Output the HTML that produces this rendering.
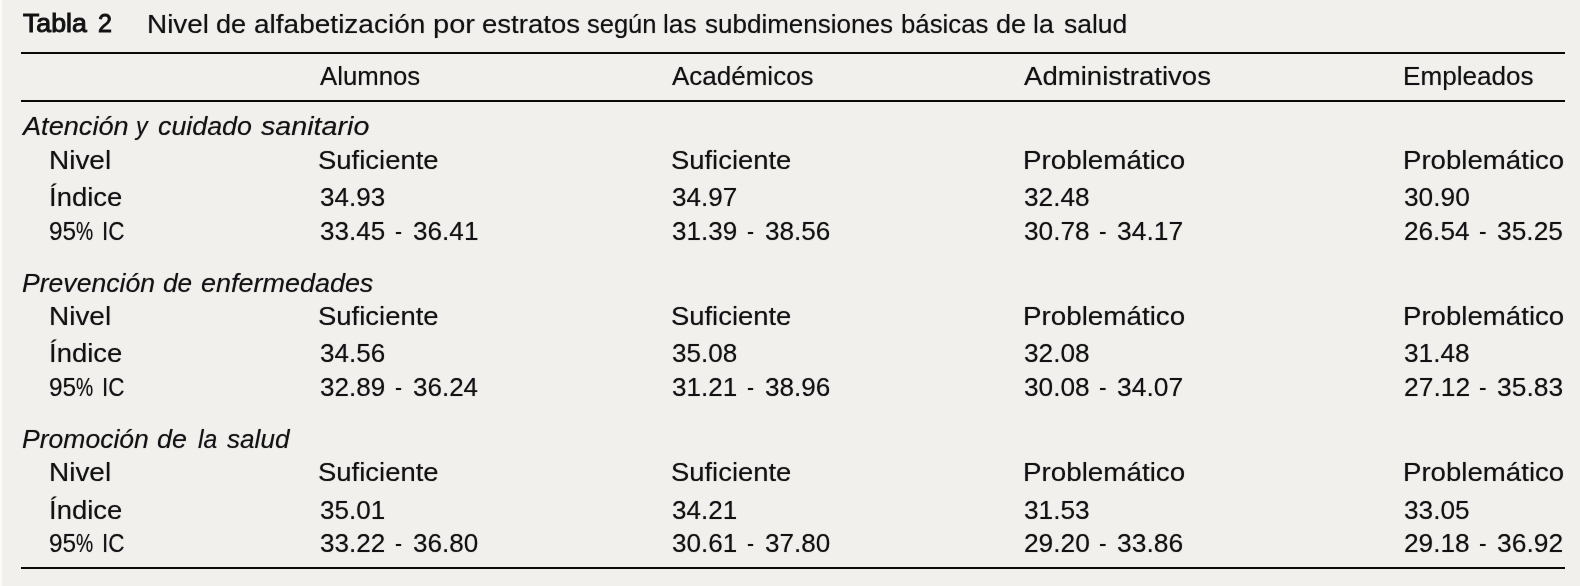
<!DOCTYPE html>
<html lang="es">
<head>
<meta charset="utf-8">
<title>Tabla 2</title>
<style>
html,body{margin:0;padding:0}
body{width:1580px;height:586px;position:relative;overflow:hidden;background:#f1f0ec;color:#121214;font-family:"Liberation Sans",sans-serif;font-size:25.5px;line-height:25.5px}
.t{position:absolute;white-space:pre;transform-origin:0 0;display:block;text-shadow:0 0 1px rgba(20,20,30,.5)}
#tx{position:absolute;left:0;top:0;width:1580px;height:586px;filter:blur(.35px)}
.b{text-shadow:none;-webkit-text-stroke:1px #121214}
.i{font-style:italic}
.ln{position:absolute;left:21px;width:1544px;height:2px;background:#0a0a0a}
.edge{position:absolute;left:0;top:0;width:2px;height:586px;background:#fbfbf9}
</style>
</head>
<body>
<div class="edge"></div>
<div class="ln" style="top:52px"></div>
<div class="ln" style="top:100px"></div>
<div class="ln" style="top:567px"></div>
<div id="tx">
<span id="t0" class="t b" style="left:23.30px;top:11.00px;transform:scaleX(1.0478)">Tabla</span>
<span id="t1" class="t b" style="left:97.73px;top:11.00px;transform:scaleX(0.9837)">2</span>
<span id="t2" class="t" style="left:147.04px;top:12.00px;transform:scaleX(1.0935)">Nivel</span>
<span id="t3" class="t" style="left:216.03px;top:12.00px;transform:scaleX(1.0646)">de</span>
<span id="t4" class="t" style="left:254.07px;top:12.00px;transform:scaleX(1.0988)">alfabetización</span>
<span id="t5" class="t" style="left:432.53px;top:12.00px;transform:scaleX(1.1397)">por</span>
<span id="t6" class="t" style="left:481.50px;top:12.00px;transform:scaleX(1.0800)">estratos</span>
<span id="t7" class="t" style="left:586.63px;top:12.00px;transform:scaleX(0.9997)">según</span>
<span id="t8" class="t" style="left:662.76px;top:12.00px;transform:scaleX(1.0310)">las</span>
<span id="t9" class="t" style="left:704.55px;top:12.00px;transform:scaleX(1.0203)">subdimensiones</span>
<span id="t10" class="t" style="left:900.52px;top:12.00px;transform:scaleX(1.0102)">básicas</span>
<span id="t11" class="t" style="left:996.03px;top:12.00px;transform:scaleX(1.0646)">de</span>
<span id="t12" class="t" style="left:1032.73px;top:12.00px;transform:scaleX(1.0439)">la</span>
<span id="t13" class="t" style="left:1063.77px;top:12.00px;transform:scaleX(1.0376)">salud</span>
<span id="t14" class="t" style="left:320.00px;top:64.00px;transform:scaleX(1.0103)">Alumnos</span>
<span id="t15" class="t" style="left:672.00px;top:64.00px;transform:scaleX(1.0195)">Académicos</span>
<span id="t16" class="t" style="left:1023.50px;top:64.00px;transform:scaleX(1.0812)">Administrativos</span>
<span id="t17" class="t" style="left:1403.02px;top:64.00px;transform:scaleX(1.0236)">Empleados</span>
<span id="t18" class="t i" style="left:23.41px;top:114.00px;transform:scaleX(1.0645)">Atención</span>
<span id="t19" class="t i" style="left:136.23px;top:114.00px;transform:scaleX(0.9110)">y</span>
<span id="t20" class="t i" style="left:158.01px;top:114.00px;transform:scaleX(1.0518)">cuidado</span>
<span id="t21" class="t i" style="left:261.00px;top:114.00px;transform:scaleX(1.1241)">sanitario</span>
<span id="t22" class="t" style="left:49.07px;top:148.00px;transform:scaleX(1.0958)">Nivel</span>
<span id="t23" class="t" style="left:318.13px;top:148.00px;transform:scaleX(1.0768)">Suficiente</span>
<span id="t24" class="t" style="left:670.95px;top:148.00px;transform:scaleX(1.0744)">Suficiente</span>
<span id="t25" class="t" style="left:1022.54px;top:148.00px;transform:scaleX(1.0896)">Problemático</span>
<span id="t26" class="t" style="left:1403.02px;top:148.00px;transform:scaleX(1.0831)">Problemático</span>
<span id="t27" class="t" style="left:48.82px;top:185.00px;transform:scaleX(1.0766)">Índice</span>
<span id="t28" class="t" style="left:319.56px;top:185.00px;transform:scaleX(1.0217)">34.93</span>
<span id="t29" class="t" style="left:671.56px;top:185.00px;transform:scaleX(1.0222)">34.97</span>
<span id="t30" class="t" style="left:1024.18px;top:185.00px;transform:scaleX(1.0280)">32.48</span>
<span id="t31" class="t" style="left:1404.10px;top:185.00px;transform:scaleX(1.0312)">30.90</span>
<span id="t32" class="t" style="left:49.01px;top:219.00px;transform:scaleX(0.9575)">95</span>
<span id="t33" class="t" style="left:76.15px;top:219.00px;transform:scaleX(0.7547)">%</span>
<span id="t34" class="t" style="left:102.08px;top:219.00px;transform:scaleX(0.8827)">IC</span>
<span id="t35" class="t" style="left:319.56px;top:219.00px;transform:scaleX(1.0214)">33.45</span>
<span id="t36" class="t" style="left:394.95px;top:219.00px;transform:scaleX(0.8279)">-</span>
<span id="t37" class="t" style="left:412.96px;top:219.00px;transform:scaleX(1.0252)">36.41</span>
<span id="t38" class="t" style="left:671.56px;top:219.00px;transform:scaleX(1.0219)">31.39</span>
<span id="t39" class="t" style="left:746.95px;top:219.00px;transform:scaleX(0.8279)">-</span>
<span id="t40" class="t" style="left:764.96px;top:219.00px;transform:scaleX(1.0247)">38.56</span>
<span id="t41" class="t" style="left:1024.18px;top:219.00px;transform:scaleX(1.0280)">30.78</span>
<span id="t42" class="t" style="left:1099.24px;top:219.00px;transform:scaleX(0.8835)">-</span>
<span id="t43" class="t" style="left:1117.34px;top:219.00px;transform:scaleX(1.0359)">34.17</span>
<span id="t44" class="t" style="left:1404.05px;top:219.00px;transform:scaleX(1.0267)">26.54</span>
<span id="t45" class="t" style="left:1479.24px;top:219.00px;transform:scaleX(0.8835)">-</span>
<span id="t46" class="t" style="left:1497.42px;top:219.00px;transform:scaleX(1.0334)">35.25</span>
<span id="t47" class="t i" style="left:21.76px;top:271.00px;transform:scaleX(1.0423)">Prevención</span>
<span id="t48" class="t i" style="left:163.08px;top:271.00px;transform:scaleX(1.0300)">de</span>
<span id="t49" class="t i" style="left:201.32px;top:271.00px;transform:scaleX(1.0572)">enfermedades</span>
<span id="t50" class="t" style="left:49.07px;top:304.00px;transform:scaleX(1.0958)">Nivel</span>
<span id="t51" class="t" style="left:318.13px;top:304.00px;transform:scaleX(1.0768)">Suficiente</span>
<span id="t52" class="t" style="left:670.95px;top:304.00px;transform:scaleX(1.0744)">Suficiente</span>
<span id="t53" class="t" style="left:1022.54px;top:304.00px;transform:scaleX(1.0896)">Problemático</span>
<span id="t54" class="t" style="left:1403.02px;top:304.00px;transform:scaleX(1.0831)">Problemático</span>
<span id="t55" class="t" style="left:48.82px;top:341.00px;transform:scaleX(1.0766)">Índice</span>
<span id="t56" class="t" style="left:319.56px;top:341.00px;transform:scaleX(1.0217)">34.56</span>
<span id="t57" class="t" style="left:671.56px;top:341.00px;transform:scaleX(1.0215)">35.08</span>
<span id="t58" class="t" style="left:1024.18px;top:341.00px;transform:scaleX(1.0280)">32.08</span>
<span id="t59" class="t" style="left:1404.18px;top:341.00px;transform:scaleX(1.0280)">31.48</span>
<span id="t60" class="t" style="left:49.01px;top:375.00px;transform:scaleX(0.9575)">95</span>
<span id="t61" class="t" style="left:76.15px;top:375.00px;transform:scaleX(0.7547)">%</span>
<span id="t62" class="t" style="left:102.08px;top:375.00px;transform:scaleX(0.8827)">IC</span>
<span id="t63" class="t" style="left:319.56px;top:375.00px;transform:scaleX(1.0219)">32.89</span>
<span id="t64" class="t" style="left:394.95px;top:375.00px;transform:scaleX(0.8279)">-</span>
<span id="t65" class="t" style="left:412.96px;top:375.00px;transform:scaleX(1.0194)">36.24</span>
<span id="t66" class="t" style="left:671.56px;top:375.00px;transform:scaleX(1.0219)">31.21</span>
<span id="t67" class="t" style="left:746.95px;top:375.00px;transform:scaleX(0.8279)">-</span>
<span id="t68" class="t" style="left:764.96px;top:375.00px;transform:scaleX(1.0247)">38.96</span>
<span id="t69" class="t" style="left:1024.18px;top:375.00px;transform:scaleX(1.0280)">30.08</span>
<span id="t70" class="t" style="left:1099.24px;top:375.00px;transform:scaleX(0.8835)">-</span>
<span id="t71" class="t" style="left:1117.34px;top:375.00px;transform:scaleX(1.0359)">34.07</span>
<span id="t72" class="t" style="left:1404.06px;top:375.00px;transform:scaleX(1.0368)">27.12</span>
<span id="t73" class="t" style="left:1479.24px;top:375.00px;transform:scaleX(0.8835)">-</span>
<span id="t74" class="t" style="left:1497.30px;top:375.00px;transform:scaleX(1.0359)">35.83</span>
<span id="t75" class="t i" style="left:21.84px;top:427.00px;transform:scaleX(1.0409)">Promoción</span>
<span id="t76" class="t i" style="left:156.86px;top:427.00px;transform:scaleX(1.0528)">de</span>
<span id="t77" class="t i" style="left:198.10px;top:427.00px;transform:scaleX(0.9711)">la</span>
<span id="t78" class="t i" style="left:227.00px;top:427.00px;transform:scaleX(1.0244)">salud</span>
<span id="t79" class="t" style="left:49.07px;top:460.00px;transform:scaleX(1.0958)">Nivel</span>
<span id="t80" class="t" style="left:318.13px;top:460.00px;transform:scaleX(1.0768)">Suficiente</span>
<span id="t81" class="t" style="left:670.95px;top:460.00px;transform:scaleX(1.0744)">Suficiente</span>
<span id="t82" class="t" style="left:1022.54px;top:460.00px;transform:scaleX(1.0896)">Problemático</span>
<span id="t83" class="t" style="left:1403.02px;top:460.00px;transform:scaleX(1.0831)">Problemático</span>
<span id="t84" class="t" style="left:48.82px;top:498.00px;transform:scaleX(1.0766)">Índice</span>
<span id="t85" class="t" style="left:319.56px;top:498.00px;transform:scaleX(1.0219)">35.01</span>
<span id="t86" class="t" style="left:671.56px;top:498.00px;transform:scaleX(1.0219)">34.21</span>
<span id="t87" class="t" style="left:1024.10px;top:498.00px;transform:scaleX(1.0298)">31.53</span>
<span id="t88" class="t" style="left:1404.22px;top:498.00px;transform:scaleX(1.0276)">33.05</span>
<span id="t89" class="t" style="left:49.01px;top:531.00px;transform:scaleX(0.9575)">95</span>
<span id="t90" class="t" style="left:76.15px;top:531.00px;transform:scaleX(0.7547)">%</span>
<span id="t91" class="t" style="left:102.08px;top:531.00px;transform:scaleX(0.8827)">IC</span>
<span id="t92" class="t" style="left:319.56px;top:531.00px;transform:scaleX(1.0222)">33.22</span>
<span id="t93" class="t" style="left:394.95px;top:531.00px;transform:scaleX(0.8279)">-</span>
<span id="t94" class="t" style="left:412.96px;top:531.00px;transform:scaleX(1.0225)">36.80</span>
<span id="t95" class="t" style="left:671.56px;top:531.00px;transform:scaleX(1.0219)">30.61</span>
<span id="t96" class="t" style="left:746.95px;top:531.00px;transform:scaleX(0.8279)">-</span>
<span id="t97" class="t" style="left:764.96px;top:531.00px;transform:scaleX(1.0225)">37.80</span>
<span id="t98" class="t" style="left:1024.11px;top:531.00px;transform:scaleX(1.0309)">29.20</span>
<span id="t99" class="t" style="left:1099.24px;top:531.00px;transform:scaleX(0.8835)">-</span>
<span id="t100" class="t" style="left:1117.34px;top:531.00px;transform:scaleX(1.0358)">33.86</span>
<span id="t101" class="t" style="left:1404.07px;top:531.00px;transform:scaleX(1.0279)">29.18</span>
<span id="t102" class="t" style="left:1479.24px;top:531.00px;transform:scaleX(0.8835)">-</span>
<span id="t103" class="t" style="left:1497.34px;top:531.00px;transform:scaleX(1.0359)">36.92</span>
</div>
</body>
</html>
